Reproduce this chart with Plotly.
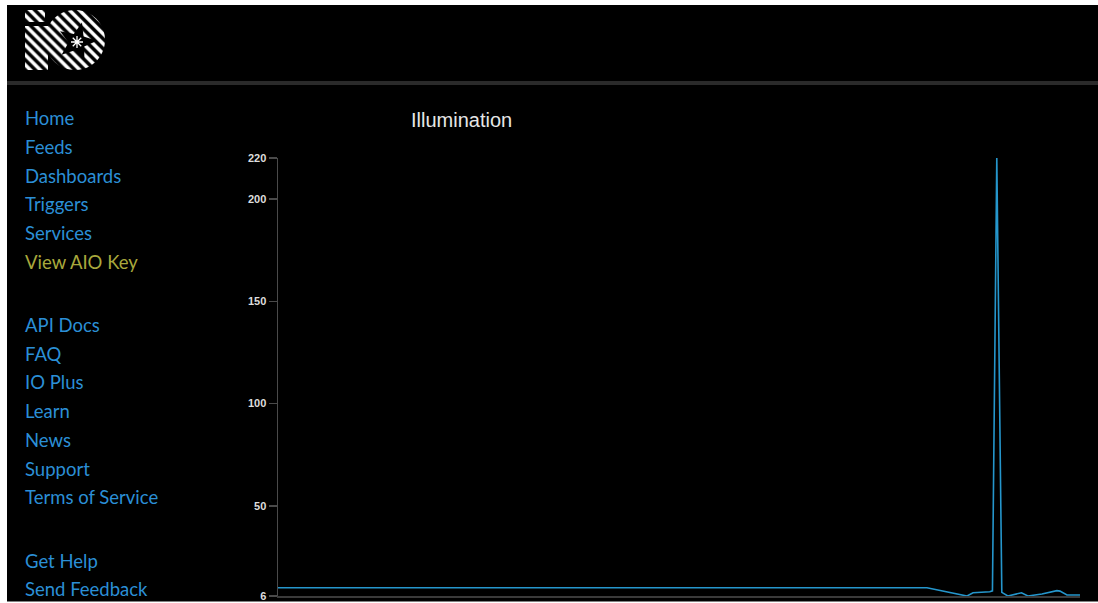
import numpy as np
import plotly.graph_objects as go

# ---------------- data ----------------
hours = [0.0, 19.42, 20.62, 20.8, 21.3, 21.38, 21.51, 21.66, 21.84, 22.25, 22.44,
         22.86, 23.31, 23.4, 23.61, 24.0]
illumination = [10, 10, 6, 7.6, 8.1, 8.5, 220, 7.8, 6, 7.6, 6, 7, 8.6, 8.4, 6.5, 6.5]
y_ticks = [6, 50, 100, 150, 200, 220]
chart_title = "Illumination"

menu_top = ["Home", "Feeds", "Dashboards", "Triggers", "Services"]
menu_key = "View AIO Key"
menu_mid = ["API Docs", "FAQ", "IO Plus", "Learn", "News", "Support", "Terms of Service"]
menu_bottom = ["Get Help", "Send Feedback"]

W, H = 1098, 603
LINK = "#2b8fd6"


def px_x(v):
    return v / W


def px_y(v):
    return 1 - v / H


fig = go.Figure()

# main data line
fig.add_trace(go.Scatter(
    x=hours, y=illumination, mode="lines",
    line=dict(color="#2596cc", width=1.6),
    cliponaxis=False, hoverinfo="skip", showlegend=False,
    xaxis="x", yaxis="y",
))

# ---------------- logo (decoration, pixel axes) ----------------
def rect(x0, y0, x1, y1):
    return [x0, x1, x1, x0, x0], [y0, y0, y1, y1, y0]

pat = dict(shape="\\", fgcolor="#ffffff", bgcolor="#000000", size=7, solidity=0.5)
for (x0, y0, x1, y1) in [(25, 10, 45, 22), (25, 26, 48, 70)]:
    xs, ys = rect(x0, y0, x1, y1)
    fig.add_trace(go.Scatter(x=xs, y=ys, fill="toself", mode="none",
                             fillpattern=pat, fillcolor="#000000",
                             hoverinfo="skip", showlegend=False,
                             xaxis="x2", yaxis="y2"))
t = np.linspace(0, 2 * np.pi, 80)
fig.add_trace(go.Scatter(x=75 + 30 * np.cos(t), y=40 + 30 * np.sin(t), fill="toself",
                         mode="none", fillpattern=pat, fillcolor="#000000",
                         hoverinfo="skip", showlegend=False, xaxis="x2", yaxis="y2"))
ang = np.linspace(0, 2 * np.pi, 11)[:-1] - np.pi / 2 + 0.25
rad = np.array([20, 8.5] * 5)
sx = list(77 + rad * np.cos(ang)) + [77 + 20 * np.cos(ang[0])]
sy = list(42 + rad * np.sin(ang)) + [42 + 20 * np.sin(ang[0])]
fig.add_trace(go.Scatter(x=sx, y=sy, fill="toself", mode="none", fillcolor="#000000",
                         hoverinfo="skip", showlegend=False, xaxis="x2", yaxis="y2"))
fig.add_trace(go.Scatter(x=[77], y=[42], mode="markers",
                         marker=dict(symbol="asterisk-open", size=10, color="#ffffff",
                                     line=dict(color="#ffffff", width=1.3)),
                         hoverinfo="skip", showlegend=False, xaxis="x2", yaxis="y2"))

# ---------------- annotations ----------------
annotations = []
font_menu = "Lato, 'Open Sans', sans-serif"
MS = 18.5


def menu(label, yy, color=LINK):
    annotations.append(dict(text=label, x=px_x(23), y=px_y(yy), xref="paper", yref="paper",
                            xanchor="left", yanchor="middle", showarrow=False,
                            font=dict(family=font_menu, size=MS, color=color)))


for label, yy in zip(menu_top, [118, 147, 176, 204, 233]):
    menu(label, yy)
menu(menu_key, 262, "#a9a83c")
for label, yy in zip(menu_mid, [325, 354, 382, 411, 440, 469, 497]):
    menu(label, yy)
for label, yy in zip(menu_bottom, [561, 589]):
    menu(label, yy)

annotations.append(dict(text=chart_title, x=px_x(409), y=px_y(120), xref="paper", yref="paper",
                        xanchor="left", yanchor="middle", showarrow=False,
                        font=dict(family="Liberation Sans, Arial, sans-serif", size=20,
                                  color="#e6e6e6")))

shapes = [
    # header separator
    dict(type="rect", xref="paper", yref="paper", x0=px_x(7), x1=1, y0=px_y(81), y1=px_y(85),
         fillcolor="#2a2a2a", line=dict(width=0), layer="below"),
    # white page edges
    dict(type="rect", xref="paper", yref="paper", x0=0, x1=1, y0=px_y(0), y1=px_y(5),
         fillcolor="#ffffff", line=dict(width=0)),
    dict(type="rect", xref="paper", yref="paper", x0=0, x1=px_x(7), y0=0, y1=1,
         fillcolor="#ffffff", line=dict(width=0)),
    dict(type="rect", xref="paper", yref="paper", x0=0, x1=1, y0=0, y1=px_y(601.5),
         fillcolor="#ffffff", line=dict(width=0)),
]

fig.update_layout(
    template="none",
    width=W, height=H, margin=dict(l=0, r=0, t=0, b=0, pad=0, autoexpand=False),
    paper_bgcolor="#000000", plot_bgcolor="rgba(0,0,0,0)",
    showlegend=False,
    xaxis=dict(domain=[px_x(278), px_x(1080)], range=[0, 24], showgrid=False, zeroline=False,
               showticklabels=False, ticks="", showline=True, linecolor="#3a3a3a",
               linewidth=2, fixedrange=True, automargin=False),
    yaxis=dict(domain=[px_y(596), px_y(158)], range=[6, 220], tickvals=y_ticks,
               showgrid=False, zeroline=False, showline=True, linecolor="#4a4a4a",
               linewidth=1.5, ticks="outside", ticklen=8, tickcolor="#4a4a4a",
               tickwidth=1.2, automargin=False,
               tickfont=dict(family="Liberation Sans, Arial, sans-serif", size=11,
                             color="#dddddd", weight="bold"),
               fixedrange=True),
    xaxis2=dict(domain=[0, 1], range=[0, W], visible=False, fixedrange=True,
                automargin=False),
    yaxis2=dict(domain=[0, 1], range=[H, 0], visible=False, fixedrange=True,
                automargin=False),
    annotations=annotations,
    shapes=shapes,
)

fig.write_html(
    "out.html",
    config={"displayModeBar": False, "staticPlot": True},
    post_script=(
        "document.documentElement.style.margin='0';"
        "document.documentElement.style.overflow='hidden';"
        "document.body.style.margin='0';document.body.style.padding='0';"
        "document.body.style.overflow='hidden';"
        "var gd=document.getElementById('{plot_id}');"
        "gd.style.position='fixed';gd.style.top='0px';gd.style.left='0px';"
    ),
)
